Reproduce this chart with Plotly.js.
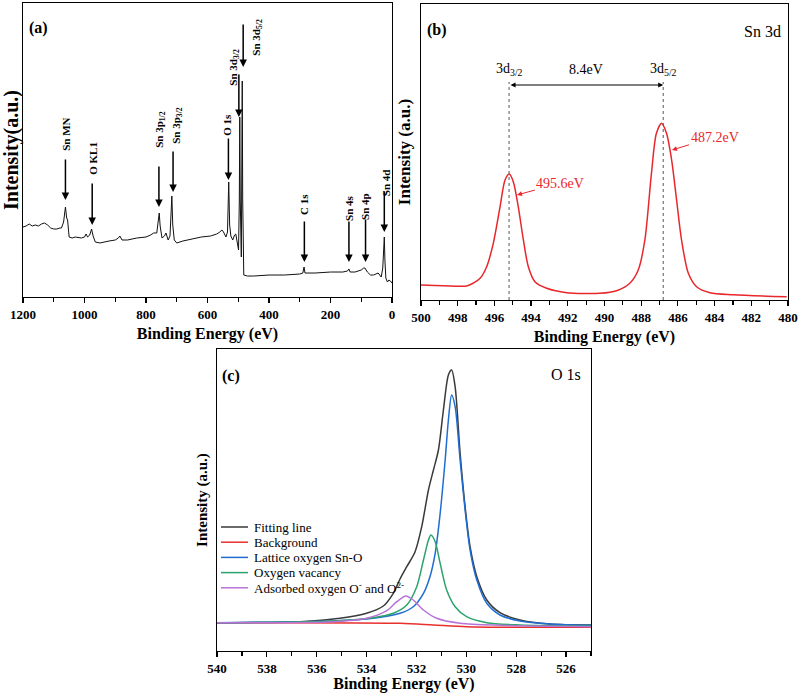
<!DOCTYPE html>
<html>
<head>
<meta charset="utf-8">
<script src="https://cdn.plot.ly/plotly-3.0.1.min.js"></script>
<style>
  body { margin: 0; background: #fff; }
  #chart { width: 799px; height: 693px; }
</style>
</head>
<body>
<div id="chart"></div>
<script>
// (a) survey spectrum
var surveyE = [1200,1190,1180,1170,1160,1150,1140,1130,1120,1110,1100,1090,1080,1075,1068,1062,1058,1055,1050,1040,1030,1010,1000,995,990,983,977,972,965,950,920,900,890,885,878,860,830,800,785,775,765,760,757,754,748,740,735,728,722,718,716,713,708,700,680,650,620,590,570,560,553,548,540,535,531,528,524,518,512,508,502,499,496.5,495,493.5,492,490,489,487,485.5,484,482,470,450,400,350,300,290,286,283,250,200,160,145,140,136,120,100,92,88,80,70,60,50,45,40,35,30,27,25,23,20,15,10,5,2,0];
var surveyI = [70,71,73,71,72,71,73,74,72,69,68,68,69,69,75,90,79,77,60,59,60,59,60,63,60,62,68,61,55,54,56,57,59,61,57,57,59,60,62,64,64,75,84,71,59,61,64,57,61,87,101,72,57,54,56,58,60,61,63,65,67,65,60,65,115,72,61,57,62,63,54,47,97,180,97,42,40,97,216,97,27,22,21,21,22,22,23,24,30,24,24,25,25,26,28,25,25,27,29,29,25,22,22,23,24,22,20,29,57,60,37,19,15,17,16,14,14];
var surveyTicks = [1200, 1000, 800, 600, 400, 200, 0];

var surveyLabels = ['Sn MN','O KL1','Sn 3p<sub>1/2</sub>','Sn 3p<sub>3/2</sub>','O 1s','Sn 3d<sub>3/2</sub>','Sn 3d<sub>5/2</sub>','C 1s','Sn 4s','Sn 4p','Sn 4d'];
var labelE = [1061,973,755,700,537,515,440,286,140,88,19];
var labelI = [163,139,168,172,172,230,260,92,89,91,114];
var arrowE = [1062,975,758,712,532,498,484,285,140,86,25];
var arrowTop = [139,115,132,147,160,224,274,77,77,79,107];
var arrowTip = [97,72,90,105,117,180,230,35,35,35,65];

// (b) Sn 3d
var sn3dE = [500,498.78,497.51,497.24,496.78,496.42,496.06,495.69,495.42,495.19,494.97,494.70,494.42,494.15,493.79,493.15,492.06,490.25,489.34,488.62,488.16,487.80,487.44,487.17,486.89,486.62,486.34,486.07,485.80,485.43,484.98,484.25,482.98,480.07];
var sn3dI = [15,14.3,14,16,21.7,33.3,56.7,93.3,120,126,118.3,93.3,60,33.3,18.3,11.7,7.3,6.7,9.3,16.7,30,60,126.7,166.7,176.7,166.7,140,100,60,26.7,13.3,7.3,5.3,3.3];
var sn3dTicks = [500, 498, 496, 494, 492, 490, 488, 486, 484, 482, 480];
var sn3dPeaks = [495.2, 486.8];
var sn3dPeakText = ['495.6eV', '487.2eV'];
var sn3dLevels = ['3d<sub>3/2</sub>', '3d<sub>5/2</sub>'];
var splitText = '8.4eV';

// (c) O 1s
var fitE = [540,536.67,535.07,534.0,533.33,532.93,532.66,532.39,532.06,531.79,531.52,531.32,531.12,530.92,530.72,530.59,530.45,530.25,530.05,529.85,529.58,529.18,528.65,527.85,526.64,525];
var fitI = [28.3,29.3,32.7,37.7,45,57.7,72,84.3,99,124.3,161,181,201,241,276,281,264.3,197.7,144.3,104.3,74.3,51,38.3,31,27,26];
var bgE = [540,532.66,531.32,529.99,528.65,525];
var bgI = [28.3,27.7,26,24.3,23.7,23.7];
var latticeE = [540,535.33,533.73,532.66,532.13,531.72,531.46,531.25,531.05,530.85,530.72,530.59,530.45,530.25,530.05,529.85,529.58,529.18,528.65,527.85,526.64,525];
var latticeI = [28.3,30,32.7,37.7,44.3,57.7,74.3,97.7,137.7,191,231,256,244.3,191,141,101,71,47.7,36,30,27,25.7];
var vacancyE = [540,535.33,533.73,532.93,532.39,531.99,531.72,531.52,531.42,531.25,531.05,530.79,530.45,529.99,529.18,527.85,525];
var vacancyI = [28.3,30,33.3,37.7,46,64.3,91,111,116,109.3,87.7,61,44.3,34.3,28.3,26,25];
var adsorbedE = [540,535.33,534.0,533.19,532.79,532.43,532.13,531.72,531.19,530.25,528.65,525];
var adsorbedI = [28.3,29.3,32.7,40.3,49.3,55,51,41,32.7,27.7,25.7,24.3];
var o1sTicks = [540, 538, 536, 534, 532, 530, 528, 526];

var serif = 'Liberation Serif, Times New Roman, serif';

var traces = [
  {x: surveyE, y: surveyI, xaxis: 'x', yaxis: 'y', mode: 'lines', line: {color: '#111', width: 1}},
  {x: sn3dE, y: sn3dI, xaxis: 'x2', yaxis: 'y2', mode: 'lines', line: {color: '#e8272d', width: 1.5, shape: 'spline', smoothing: 0.8}},
  {x: fitE, y: fitI, xaxis: 'x3', yaxis: 'y3', mode: 'lines', name: 'Fitting line', line: {color: '#3a3a3a', width: 1.5, shape: 'spline', smoothing: 0.8}},
  {x: bgE, y: bgI, xaxis: 'x3', yaxis: 'y3', mode: 'lines', name: 'Background', line: {color: '#e8302c', width: 1.5, shape: 'spline', smoothing: 0.8}},
  {x: latticeE, y: latticeI, xaxis: 'x3', yaxis: 'y3', mode: 'lines', name: 'Lattice oxygen Sn-O', line: {color: '#1f6dd0', width: 1.5, shape: 'spline', smoothing: 0.8}},
  {x: vacancyE, y: vacancyI, xaxis: 'x3', yaxis: 'y3', mode: 'lines', name: 'Oxygen vacancy', line: {color: '#2ba36c', width: 1.5, shape: 'spline', smoothing: 0.8}},
  {x: adsorbedE, y: adsorbedI, xaxis: 'x3', yaxis: 'y3', mode: 'lines', name: 'Adsorbed oxygen O<sup>-</sup> and O<sup>2-</sup>', line: {color: '#b873d8', width: 1.5, shape: 'spline', smoothing: 0.8}}
];
traces.forEach(function (t) { t.showlegend = false; });

function xAxis(domain, range, anchor, ticks, title) {
  var dtick = Math.abs(ticks[1] - ticks[0]);
  return {
    domain: domain, range: range, anchor: anchor,
    tickmode: 'array', tickvals: ticks, ticktext: ticks.map(function (v) { return '<b>' + v + '</b>'; }),
    showline: true, mirror: true, linecolor: '#000', linewidth: 1.3,
    ticks: 'outside', ticklen: 5, tickwidth: 1.2, tickcolor: '#000',
    minor: {ticks: 'outside', ticklen: 4, tickwidth: 1.2, tickcolor: '#000', tickmode: 'linear', tick0: 0, dtick: dtick / 2},
    ticklabelstandoff: 0,
    tickfont: {family: serif, size: 13, color: '#000'},
    showgrid: false, zeroline: false,
    title: {text: title, font: {family: serif, size: 16, weight: 'bold', color: '#000'}, standoff: 7}
  };
}
function yAxis(domain, range, anchor, title, size, standoff) {
  return {
    domain: domain, range: range, anchor: anchor,
    showline: true, mirror: true, linecolor: '#000', linewidth: 1.3,
    ticks: '', showticklabels: false, showgrid: false, zeroline: false,
    title: {text: title, font: {family: serif, size: size, weight: 'bold', color: '#000'}, standoff: standoff}
  };
}

var annotations = [];
for (var i = 0; i < surveyLabels.length; i++) {
  annotations.push({xref: 'x', yref: 'y', x: labelE[i], y: labelI[i], text: surveyLabels[i], textangle: -90,
    showarrow: false, font: {family: serif, size: 11, weight: 'bold', color: '#000'}});
  annotations.push({xref: 'x', yref: 'y', axref: 'x', ayref: 'y', x: arrowE[i], y: arrowTip[i], ax: arrowE[i], ay: arrowTop[i],
    text: '', showarrow: true, arrowhead: 2, arrowsize: 1, arrowwidth: 1.5, arrowcolor: '#000'});
}
// (b) level labels, splitting arrow, peak labels
var levelY = 231, arrowY = 215;
annotations.push({xref: 'x2', yref: 'y2', x: sn3dPeaks[0], y: levelY, text: sn3dLevels[0], showarrow: false, font: {family: serif, size: 14, color: '#000'}});
annotations.push({xref: 'x2', yref: 'y2', x: sn3dPeaks[1], y: levelY, text: sn3dLevels[1], showarrow: false, font: {family: serif, size: 14, color: '#000'}});
annotations.push({xref: 'x2', yref: 'y2', x: (sn3dPeaks[0] + sn3dPeaks[1]) / 2, y: levelY, text: splitText, showarrow: false, font: {family: serif, size: 14, color: '#000'}});
annotations.push({xref: 'x2', yref: 'y2', axref: 'x2', ayref: 'y2', x: sn3dPeaks[1], y: arrowY, ax: sn3dPeaks[0], ay: arrowY,
  text: '', showarrow: true, arrowhead: 2, arrowside: 'end+start', arrowsize: 1, arrowwidth: 1, arrowcolor: '#000'});
annotations.push({xref: 'x2', yref: 'y2', axref: 'x2', ayref: 'y2', x: 494.77, y: 105, ax: 492.4, ay: 117,
  text: sn3dPeakText[0], showarrow: true, arrowhead: 2, arrowsize: 1, arrowwidth: 1, arrowcolor: '#e8272d', font: {family: serif, size: 14, color: '#e8272d'}});
annotations.push({xref: 'x2', yref: 'y2', axref: 'x2', ayref: 'y2', x: 486.32, y: 150, ax: 484.0, ay: 163,
  text: sn3dPeakText[1], showarrow: true, arrowhead: 2, arrowsize: 1, arrowwidth: 1, arrowcolor: '#e8272d', font: {family: serif, size: 14, color: '#e8272d'}});
// panel tags
annotations.push({xref: 'x domain', yref: 'y domain', x: 0.011, y: 0.952, xanchor: 'left', text: '(a)', showarrow: false, font: {family: serif, size: 16, weight: 'bold', color: '#000'}});
annotations.push({xref: 'x2 domain', yref: 'y2 domain', x: 0.011, y: 0.949, xanchor: 'left', text: '(b)', showarrow: false, font: {family: serif, size: 16, weight: 'bold', color: '#000'}});
annotations.push({xref: 'x3 domain', yref: 'y3 domain', x: 0.008, y: 0.947, xanchor: 'left', text: '(c)', showarrow: false, font: {family: serif, size: 16, weight: 'bold', color: '#000'}});
annotations.push({xref: 'x2 domain', yref: 'y2 domain', x: 0.986, y: 0.943, xanchor: 'right', text: 'Sn 3d', showarrow: false, font: {family: serif, size: 16, color: '#000'}});
annotations.push({xref: 'x3 domain', yref: 'y3 domain', x: 0.979, y: 0.95, xanchor: 'right', text: 'O 1s', showarrow: false, font: {family: serif, size: 16, color: '#000'}});

var shapes = sn3dPeaks.map(function (p) {
  return {type: 'line', xref: 'x2', yref: 'y2', x0: p, x1: p, y0: 0, y1: 218, line: {color: '#555', width: 1, dash: 'dot'}};
});

// compact legend for panel (c), built from the O 1s traces
var W = 799, H = 693;
traces.slice(2).forEach(function (t, k) {
  var yPx = 527 + k * 15.2;
  shapes.push({type: 'line', xref: 'paper', yref: 'paper', x0: 221 / W, x1: 248 / W, y0: 1 - yPx / H, y1: 1 - yPx / H,
    line: {color: t.line.color, width: 1.5}});
  annotations.push({xref: 'paper', yref: 'paper', x: 252 / W, y: 1 - yPx / H, xanchor: 'left', yanchor: 'middle',
    text: t.name, showarrow: false, font: {family: serif, size: 13, color: '#000'}});
});

var layout = {
  width: W, height: H,
  margin: {l: 0, r: 0, t: 0, b: 0},
  paper_bgcolor: '#fff', plot_bgcolor: '#fff',
  font: {family: serif, color: '#000'},
  showlegend: false,
  xaxis: xAxis([0.0288, 0.4906], [1200, 0], 'y', surveyTicks, 'Binding Energy (eV)'),
  yaxis: yAxis([0.5714, 0.9957], [0, 294], 'x', 'Intensity(a.u.)', 20, 4),
  xaxis2: xAxis([0.5269, 0.9862], [500, 480], 'y2', sn3dTicks, 'Binding Energy (eV)'),
  yaxis2: yAxis([0.5671, 0.9942], [0, 296], 'x2', 'Intensity (a.u.)', 17, 4),
  xaxis3: xAxis([0.2716, 0.7397], [540, 525], 'y3', o1sTicks, 'Binding Energy (eV)'),
  yaxis3: yAxis([0.0606, 0.4964], [0, 302], 'x3', 'Intensity (a.u.)', 15, 4),
  annotations: annotations,
  shapes: shapes
};

Plotly.newPlot('chart', traces, layout, {displayModeBar: false, staticPlot: true});
</script>
</body>
</html>
